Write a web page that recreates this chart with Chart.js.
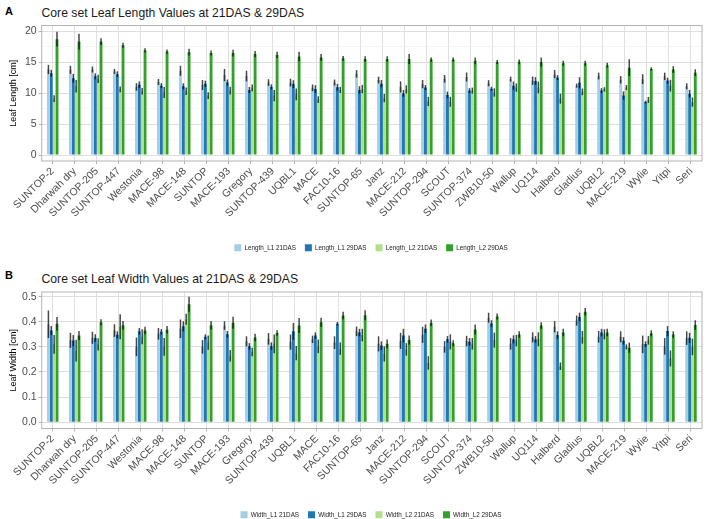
<!DOCTYPE html>
<html><head><meta charset="utf-8">
<script src="https://cdn.jsdelivr.net/npm/chart.js@4.4.1/dist/chart.umd.min.js"></script>
<style>
body{margin:0;background:#fff;width:708px;height:519px;overflow:hidden;position:relative;font-family:"Liberation Sans",Arial,sans-serif;}
canvas{position:absolute;left:0;}
.tag{position:absolute;font-weight:bold;font-size:11px;line-height:1;color:#000;}
.ttl{position:absolute;font-size:12.2px;line-height:1;color:#1a1a1a;white-space:nowrap;}
</style></head><body>
<div class="tag" style="left:5px;top:5.7px">A</div>
<div class="ttl" style="left:41.5px;top:7px">Core set Leaf Length Values at 21DAS &amp; 29DAS</div>
<div class="tag" style="left:5px;top:269.7px">B</div>
<div class="ttl" style="left:41.5px;top:273px">Core set Leaf Width Values at 21DAS &amp; 29DAS</div>
<canvas id="cA" width="708" height="258" style="top:0"></canvas>
<canvas id="cB" width="708" height="258" style="top:261px"></canvas>
<script>
const categories = ["SUNTOP-2","Dharwah dry","SUNTOP-205","SUNTOP-447","Westonia","MACE-98","MACE-148","SUNTOP","MACE-193","Gregory","SUNTOP-439","UQBL1","MACE","FAC10-16","SUNTOP-65","Janz","MACE-212","SUNTOP-294","SCOUT","SUNTOP-374","ZWB10-50","Wallup","UQ114","Halberd","Gladius","UQBL2","MACE-219","Wylie","Yitpi","Seri"];

// Panel A: leaf length (cm), mean and error
const lengthL1_21 = [13.8,13.75,13.8,13.5,11.0,11.8,13.6,11.3,12.9,12.75,11.7,11.7,10.85,11.7,13.1,12.1,11.0,11.45,12.3,12.6,11.6,12.25,12.0,13.05,11.2,12.75,12.15,12.25,12.7,11.1];
const lengthL1_29 = [13.2,12.4,12.7,13.05,11.35,11.2,11.1,11.5,11.7,10.5,11.0,11.45,10.65,10.95,10.5,11.5,9.95,10.9,9.7,10.4,10.7,11.2,11.95,12.5,11.65,10.4,9.6,8.55,12.0,9.9];
const lengthL2_21 = [9.1,11.1,12.3,10.6,10.3,10.1,10.3,9.6,10.4,10.85,9.6,9.8,8.95,10.5,10.65,9.2,10.6,8.65,8.6,10.4,10.1,10.9,10.9,9.1,10.2,10.6,10.9,8.9,11.2,8.55];
const lengthL2_29 = [18.7,18.3,18.3,17.7,16.9,16.7,16.6,16.45,16.45,16.3,16.15,15.9,15.75,15.6,15.5,15.5,15.5,15.4,15.4,15.2,15.0,15.05,15.0,14.8,14.8,14.5,14.1,13.9,13.8,13.3];
const lengthL1_21_err = [0.75,0.65,0.48,0.4,0.6,0.48,0.8,0.8,1.0,0.86,0.54,0.62,0.54,0.48,0.6,0.54,0.9,0.67,0.62,0.73,0.48,0.4,0.67,0.67,0.32,0.54,0.6,0.8,0.6,0.48];
const lengthL1_29_err = [0.55,0.7,0.48,0.46,0.54,0.4,0.48,0.5,0.48,0.48,0.4,0.62,0.62,0.54,0.6,0.6,0.54,0.4,0.54,0.4,0.32,0.67,0.62,0.4,0.9,0.4,0.67,0.22,0.48,0.6];
const lengthL2_21_err = [0.55,1.0,0.67,0.48,0.54,0.9,0.62,0.54,0.62,0.54,0.9,0.94,0.54,0.48,0.67,0.67,0.67,0.75,0.8,0.48,0.67,0.67,0.94,0.8,0.54,0.35,0.4,0.48,0.94,0.75];
const lengthL2_29_err = [1.2,1.26,0.54,0.4,0.35,0.35,0.54,0.4,0.54,0.5,0.5,0.78,0.54,0.4,0.46,0.46,0.8,0.35,0.32,0.56,0.32,0.38,0.75,0.4,0.4,0.38,1.35,0.27,0.54,0.54];

// Panel B: leaf width (cm), mean and error
const widthL1_21 = [0.39,0.326,0.336,0.365,0.3,0.352,0.372,0.3,0.385,0.322,0.332,0.319,0.33,0.317,0.362,0.312,0.324,0.348,0.3,0.323,0.416,0.312,0.338,0.38,0.405,0.34,0.34,0.31,0.302,0.335];
const widthL1_29 = [0.365,0.325,0.335,0.348,0.362,0.36,0.382,0.34,0.35,0.302,0.303,0.362,0.345,0.392,0.357,0.305,0.345,0.372,0.33,0.32,0.393,0.33,0.33,0.347,0.419,0.357,0.324,0.311,0.363,0.336];
const widthL2_21 = [0.31,0.285,0.31,0.38,0.34,0.3,0.41,0.317,0.265,0.28,0.312,0.275,0.302,0.293,0.347,0.272,0.29,0.236,0.32,0.312,0.327,0.325,0.33,0.223,0.338,0.35,0.3,0.326,0.254,0.3];
const widthL2_29 = [0.392,0.345,0.398,0.386,0.365,0.368,0.47,0.386,0.396,0.337,0.355,0.385,0.398,0.425,0.426,0.312,0.327,0.396,0.314,0.369,0.421,0.349,0.385,0.357,0.44,0.357,0.297,0.354,0.349,0.387];
const widthL1_21_err = [0.055,0.03,0.024,0.025,0.037,0.023,0.037,0.027,0.017,0.02,0.023,0.03,0.015,0.025,0.019,0.03,0.032,0.032,0.023,0.021,0.02,0.023,0.02,0.022,0.02,0.023,0.022,0.035,0.033,0.027];
const widthL1_29_err = [0.018,0.022,0.015,0.014,0.013,0.011,0.02,0.01,0.013,0.013,0.015,0.033,0.013,0.007,0.015,0.017,0.027,0.017,0.013,0.015,0.013,0.016,0.013,0.015,0.017,0.015,0.015,0.011,0.02,0.02];
const widthL2_21_err = [0.037,0.043,0.024,0.05,0.03,0.035,0.022,0.028,0.023,0.017,0.037,0.028,0.027,0.025,0.025,0.03,0.025,0.027,0.03,0.023,0.03,0.023,0.028,0.015,0.025,0.02,0.01,0.017,0.032,0.033];
const widthL2_29_err = [0.027,0.018,0.012,0.017,0.015,0.015,0.03,0.017,0.024,0.015,0.011,0.03,0.018,0.015,0.02,0.017,0.018,0.013,0.012,0.02,0.012,0.013,0.013,0.015,0.015,0.015,0.02,0.012,0.013,0.019];

const lengthLabels = ["Length_L1 21DAS","Length_L1 29DAS","Length_L2 21DAS","Length_L2 29DAS"];
const widthLabels = ["Width_L1 21DAS","Width_L1 29DAS","Width_L2 21DAS","Width_L2 29DAS"];
const colors = ['#A6CEE3','#1F78B4','#B2DF8A','#33A02C'];

Chart.defaults.font.family = '"Liberation Sans", Arial, sans-serif';

const errorBars = {
  id: 'errorBars',
  afterDatasetsDraw(chart, args, opts) {
    const ctx = chart.ctx, y = chart.scales.y;
    ctx.save();
    ctx.strokeStyle = opts.color; ctx.lineWidth = opts.width; ctx.lineCap = 'butt';
    chart.data.datasets.forEach((ds, i) => {
      const meta = chart.getDatasetMeta(i);
      if (meta.hidden) return;
      meta.data.forEach((bar, j) => {
        const m = ds.data[j], e = ds.errors[j];
        ctx.beginPath();
        ctx.moveTo(bar.x, y.getPixelForValue(m + e));
        ctx.lineTo(bar.x, y.getPixelForValue(m - e));
        ctx.stroke();
      });
    });
    ctx.restore();
  }
};
const panelBorder = {
  id: 'panelBorder',
  afterDatasetsDraw(chart) {
    const a = chart.chartArea, ctx = chart.ctx;
    ctx.save(); ctx.strokeStyle = '#b3b3b3'; ctx.lineWidth = 1;
    ctx.strokeRect(a.left, a.top, a.right - a.left, a.bottom - a.top);
    ctx.restore();
  }
};
const legendShift = {
  id: 'legendShift',
  afterLayout(chart, args, opts) {
    const L = chart.legend; if (!L) return;
    L.left += opts.dx; L.right += opts.dx; L.top += opts.dy; L.bottom += opts.dy;
  }
};

function makeChart(id, series, errs, labels, yTitle, yMin, yMax, step, isMajor, fmt, padTop, xH, dx, dy) {
  const datasets = series.map((s, i) => ({
    label: labels[i], data: s, errors: errs[i], backgroundColor: colors[i], borderWidth: 0,
    categoryPercentage: 0.52, barPercentage: 1.0
  }));
  return new Chart(document.getElementById(id), {
    type: 'bar',
    data: { labels: categories, datasets },
    plugins: [errorBars, panelBorder, legendShift],
    options: {
      responsive: false, animation: false, devicePixelRatio: 1,
      layout: { padding: { top: padTop, right: 6, bottom: 0, left: 0 } },
      plugins: {
        legend: { position: 'bottom', labels: { boxWidth: 7, boxHeight: 7, padding: 9, font: { size: 6.3 }, color: '#1a1a1a' } },
        tooltip: { enabled: false },
        errorBars: { color: 'rgba(0,0,0,0.72)', width: 1.5 },
        legendShift: { dx, dy }
      },
      scales: {
        x: {
          offset: true,
          grid: { offset: false, color: '#e0e0e0', lineWidth: 1, tickLength: 3, tickColor: '#b3b3b3' },
          border: { display: false },
          ticks: { autoSkip: false, maxRotation: 45, minRotation: 45, font: { size: 10.5 }, color: '#4d4d4d', padding: 1 },
          afterFit(s) { s.height = xH; }
        },
        y: {
          min: yMin, max: yMax,
          border: { display: false },
          grid: {
            color: c => isMajor(c.tick.value) ? '#dedede' : '#efefef',
            lineWidth: c => isMajor(c.tick.value) ? 1 : 0.6,
            tickLength: 3,
            tickColor: c => isMajor(c.tick.value) ? '#b3b3b3' : 'rgba(0,0,0,0)'
          },
          ticks: { stepSize: step, includeBounds: false, font: { size: 10.5 }, color: '#4d4d4d', padding: 2,
                   callback: v => isMajor(v) ? fmt(v) : '' },
          title: { display: true, text: yTitle, font: { size: 9 }, color: '#000', padding: { top: 8.5, bottom: 0 } },
          afterFit(s) { s.width = 41.7; }
        }
      }
    }
  });
}

makeChart('cA',
  [lengthL1_21, lengthL1_29, lengthL2_21, lengthL2_29],
  [lengthL1_21_err, lengthL1_29_err, lengthL2_21_err, lengthL2_29_err],
  lengthLabels, 'Leaf Length [cm]', -0.95, 20.9, 2.5,
  v => Math.abs(v / 5 - Math.round(v / 5)) < 1e-6, v => String(Math.round(v)),
  25.5, 71, 20, 3.3);

makeChart('cB',
  [widthL1_21, widthL1_29, widthL2_21, widthL2_29],
  [widthL1_21_err, widthL1_29_err, widthL2_21_err, widthL2_29_err],
  widthLabels, 'Leaf Width [cm]', -0.025, 0.5185, 0.05,
  v => Math.round(v * 20) % 2 === 0, v => v.toFixed(1),
  31, 64.5, 20, 9.3);
</script>
</body></html>
